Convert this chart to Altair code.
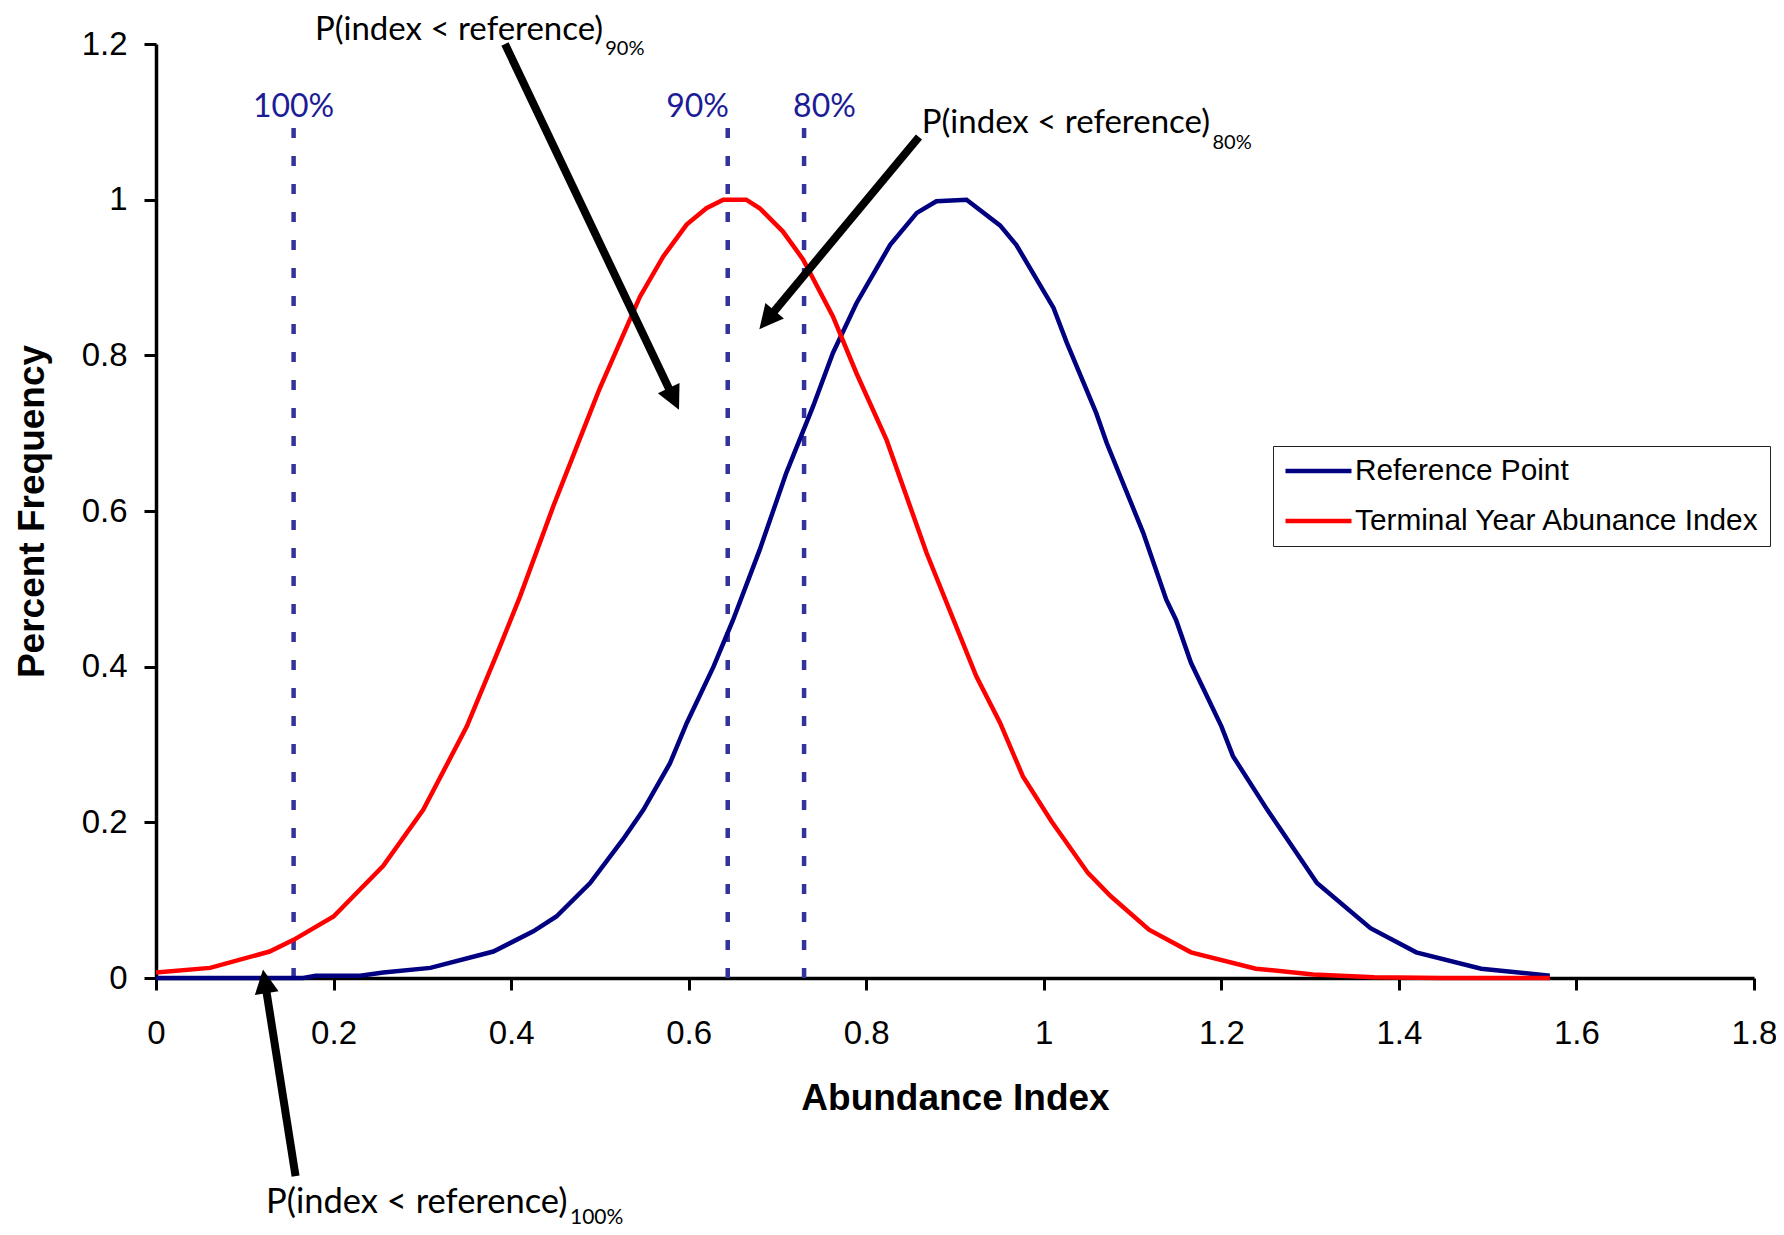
import math
import altair as alt
import pandas as pd

# ---------------- data ----------------
red_x = [0.0, 0.061, 0.128, 0.155, 0.2, 0.256, 0.301, 0.35, 0.3875, 0.41, 0.4475, 0.4889,
         0.5, 0.545, 0.5714, 0.5977, 0.62, 0.639, 0.6648, 0.68, 0.7062, 0.729, 0.7625,
         0.789, 0.823, 0.868, 0.924, 0.9507, 0.9765, 1.0088, 1.0497, 1.0755, 1.1185,
         1.1658, 1.2389, 1.3034, 1.372, 1.45, 1.57]
red_y = [0.007, 0.013, 0.034, 0.049, 0.079, 0.144, 0.216, 0.323, 0.426, 0.49, 0.606, 0.726,
         0.758, 0.875, 0.927, 0.968, 0.989, 1.0, 1.0, 0.989, 0.959, 0.923, 0.85,
         0.777, 0.691, 0.546, 0.3875, 0.328, 0.259, 0.201, 0.135, 0.105, 0.062,
         0.033, 0.012, 0.0045, 0.001, 0.0, 0.0]

blue_x = [0.0, 0.166, 0.18, 0.23, 0.256, 0.309, 0.38, 0.425, 0.451, 0.489, 0.526, 0.549,
          0.579, 0.598, 0.628, 0.65, 0.68, 0.71, 0.74, 0.7625, 0.789, 0.827, 0.857, 0.879,
          0.913, 0.9507, 0.969, 1.011, 1.026, 1.059, 1.071, 1.112, 1.138, 1.149, 1.1658,
          1.2002, 1.2131, 1.2518, 1.3077, 1.368, 1.4195, 1.4927, 1.57]
blue_y = [0.0, 0.0, 0.003, 0.003, 0.007, 0.013, 0.034, 0.06, 0.079, 0.122, 0.178, 0.216,
          0.276, 0.328, 0.4, 0.46, 0.55, 0.649, 0.734, 0.803, 0.867, 0.942, 0.983, 0.998,
          1.0, 0.967, 0.942, 0.861, 0.816, 0.726, 0.687, 0.572, 0.486, 0.46, 0.405,
          0.323, 0.285, 0.216, 0.122, 0.064, 0.033, 0.012, 0.003]

series_names = ["Reference Point", "Terminal Year Abunance Index"]
series_colors = ["#000080", "#FF0000"]

ref_x = [0.155, 0.644, 0.730]
ref_bottom = [0.0, 0.0, 0.0]
ref_top = [1.1, 1.1, 1.1]
pct_labels = ["100%", "90%", "80%"]
pct_label_x = [0.155, 0.61, 0.753]
pct_label_y = [1.119, 1.119, 1.119]

# annotations above the plot (90%, 80%)
ann_main = ["P(index < reference)", "P(index < reference)"]
ann_x = [0.179, 0.8625]
ann_y = [1.218, 1.0986]
ann_sub = ["90%", "80%"]
ann_sub_x = [0.506, 1.19]
ann_sub_y = [1.193, 1.073]

# annotation below the axis (100%)
low_main = ["P(index < reference)"]
low_x = [0.124]
low_y = [-0.289]
low_sub = ["100%"]
low_sub_x = [0.4663]
low_sub_y = [-0.3085]

arrow_x = [0.3931, 0.8594, 0.1572]
arrow_y = [1.2, 1.0806, -0.2545]
arrow_tip_x = [0.5891, 0.6796, 0.1205]
arrow_tip_y = [0.730, 0.8336, 0.0109]

x_ticks = [0, 0.2, 0.4, 0.6, 0.8, 1, 1.2, 1.4, 1.6, 1.8]
y_ticks = [0, 0.2, 0.4, 0.6, 0.8, 1, 1.2]

# ---------------- layout ----------------
W, H = 1598, 934
XMAX, YMAX = 1.8, 1.2
HEAD = 24

curves = pd.concat([
    pd.DataFrame({"x": blue_x, "y": blue_y, "series": series_names[0]}),
    pd.DataFrame({"x": red_x, "y": red_y, "series": series_names[1]}),
])

refs = pd.DataFrame({"x": ref_x, "y": ref_bottom, "y2": ref_top})
pct = pd.DataFrame({"x": pct_label_x, "y": pct_label_y, "t": pct_labels})
ann = pd.DataFrame({"x": ann_x, "y": ann_y, "t": ann_main})
sub = pd.DataFrame({"x": ann_sub_x, "y": ann_sub_y, "t": ann_sub})
low = pd.DataFrame({"x": low_x, "y": low_y, "t": low_main})
low_s = pd.DataFrame({"x": low_sub_x, "y": low_sub_y, "t": low_sub})

# arrow shafts end a little before the tip; heads are rotated triangles
shaft_rows, head_rows = [], []
for x0, y0, x1, y1 in zip(arrow_x, arrow_y, arrow_tip_x, arrow_tip_y):
    px0, py0 = x0 / XMAX * W, H - y0 / YMAX * H
    px1, py1 = x1 / XMAX * W, H - y1 / YMAX * H
    dx, dy = px1 - px0, py1 - py0
    L = math.hypot(dx, dy)
    ux, uy = dx / L, dy / L
    ex, ey = px1 - 0.75 * HEAD * ux, py1 - 0.75 * HEAD * uy
    cx, cy = px1 - 0.5 * HEAD * ux, py1 - 0.5 * HEAD * uy
    shaft_rows.append({"x": x0, "y": y0,
                       "x2": ex / W * XMAX, "y2": (H - ey) / H * YMAX})
    head_rows.append({"x": cx / W * XMAX, "y": (H - cy) / H * YMAX,
                      "angle": math.degrees(math.atan2(ux, -uy)) % 360})
shafts = pd.DataFrame(shaft_rows)
heads = pd.DataFrame(head_rows)

xscale = alt.Scale(domain=[0, XMAX], nice=False, zero=False)
yscale = alt.Scale(domain=[0, YMAX], nice=False, zero=False)

xaxis = alt.Axis(values=x_ticks, format="~g", title="Abundance Index", grid=False,
                 labelFont="Liberation Sans", labelFontSize=33, labelColor="black",
                 labelPadding=27, labelFlush=False, labelOverlap=False,
                 tickColor="black", tickSize=12, tickWidth=3,
                 domainColor="black", domainWidth=3.5,
                 titleFont="Liberation Sans", titleFontSize=37, titleFontWeight="bold",
                 titleColor="black", titleY=131, titleBaseline="alphabetic")
yaxis = alt.Axis(values=y_ticks, format="~g", title="Percent Frequency", grid=False,
                 labelFont="Liberation Sans", labelFontSize=33, labelColor="black",
                 labelPadding=17, labelFlush=False, labelOverlap=False,
                 tickColor="black", tickSize=12, tickWidth=3,
                 domainColor="black", domainWidth=3.5,
                 titleFont="Liberation Sans", titleFontSize=37, titleFontWeight="bold",
                 titleColor="black", titleX=-113, titleBaseline="alphabetic",
                 titleAngle=270)


def X():
    return alt.X("x:Q", scale=xscale, axis=xaxis)


def Y():
    return alt.Y("y:Q", scale=yscale, axis=yaxis)


lines = alt.Chart(curves).mark_line(strokeWidth=4.5).encode(
    x=X(), y=Y(),
    color=alt.Color("series:N",
                    scale=alt.Scale(domain=series_names, range=series_colors),
                    legend=alt.Legend(title=None, orient="none", legendX=1117, legendY=402,
                                      padding=10, strokeColor="#222222",
                                      fillColor="white", symbolType="stroke",
                                      symbolSize=4356, symbolStrokeWidth=4.5,
                                      labelFont="Liberation Sans", labelFontSize=29.8,
                                      labelColor="black", labelOffset=1, labelLimit=800,
                                      clipHeight=30, rowPadding=20, cornerRadius=0)),
)

rules = alt.Chart(refs).mark_rule(color="#333399", strokeWidth=4.5,
                                  strokeDash=[10, 18]).encode(
    x=X(), y=Y(), y2="y2:Q")

pct_text = alt.Chart(pct).mark_text(font="Lato", fontSize=32, color="#1C1C96",
                                    align="center", baseline="middle").encode(
    x=X(), y=Y(), text="t:N")

ann_text = alt.Chart(ann).mark_text(font="Lato", fontSize=33, color="black",
                                    align="left", baseline="middle").encode(
    x=X(), y=Y(), text="t:N")

sub_text = alt.Chart(sub).mark_text(font="Lato", fontSize=20, color="black",
                                    align="left", baseline="middle").encode(
    x=X(), y=Y(), text="t:N")

low_text = alt.Chart(low).mark_text(font="Lato", fontSize=34.5, color="black",
                                    align="left", baseline="middle").encode(
    x=X(), y=Y(), text="t:N")

low_sub_text = alt.Chart(low_s).mark_text(font="Lato", fontSize=21, color="black",
                                          align="left", baseline="middle").encode(
    x=X(), y=Y(), text="t:N")

shaft_marks = alt.Chart(shafts).mark_rule(color="black", strokeWidth=8).encode(
    x=X(), y=Y(), x2="x2:Q", y2="y2:Q")

head_marks = alt.Chart(heads).mark_point(shape="M0,-1L1,1L-1,1Z", filled=True,
                                         color="black", opacity=1,
                                         size=HEAD * HEAD).encode(
    x=X(), y=Y(), angle=alt.Angle("angle:Q", scale=None))

chart = alt.layer(rules, lines, shaft_marks, head_marks, pct_text, ann_text, sub_text,
                  low_text, low_sub_text).properties(
    width=W, height=H,
    autosize=alt.AutoSizeParams(type="none"),
    padding={"left": 148, "top": 36, "right": 22, "bottom": 249},
    background="white",
).configure_view(stroke=None)

chart.save("out.html", embed_options={"renderer": "svg", "actions": False})
